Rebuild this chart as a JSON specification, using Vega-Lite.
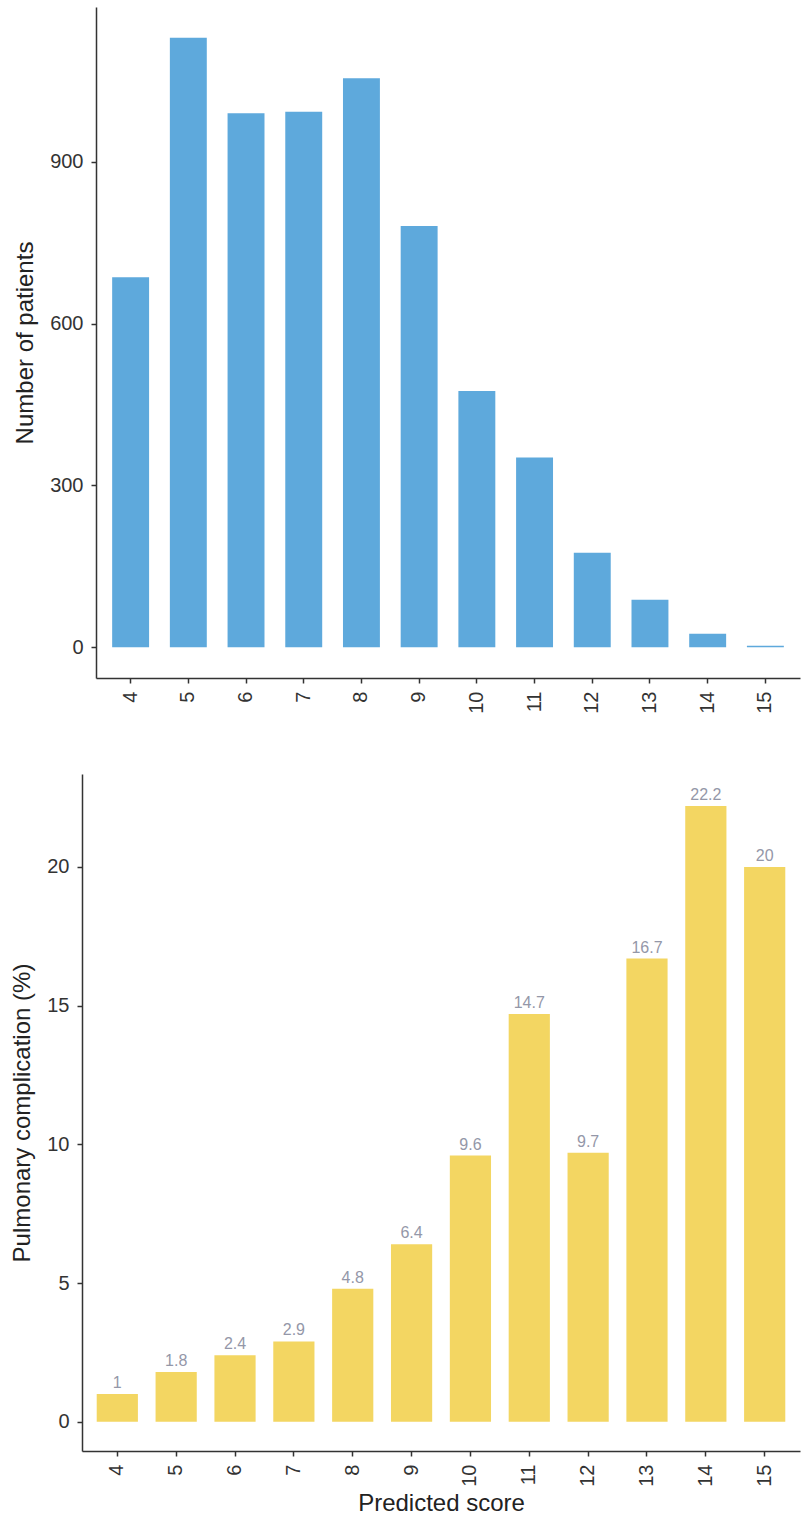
{
  "$schema": "https://vega.github.io/schema/vega-lite/v6.json",
  "background": "white",
  "padding": {"left": 10, "top": 7, "right": 12, "bottom": 2},
  "spacing": 60,
  "config": {
    "view": {"stroke": null},
    "font": "Liberation Sans",
    "axis": {
      "grid": false,
      "domainColor": "#333333",
      "domainWidth": 1.5,
      "tickColor": "#333333",
      "tickWidth": 1.5,
      "tickSize": 5,
      "labelColor": "#333333",
      "labelFontSize": 20,
      "labelPadding": 8,
      "titleFontSize": 24,
      "titleFontWeight": "normal",
      "titleColor": "#222222"
    }
  },
  "datasets": {
    "patients": [
      {"score": 4, "patients": 686},
      {"score": 5, "patients": 1130},
      {"score": 6, "patients": 990},
      {"score": 7, "patients": 993},
      {"score": 8, "patients": 1055},
      {"score": 9, "patients": 781},
      {"score": 10, "patients": 475},
      {"score": 11, "patients": 352},
      {"score": 12, "patients": 175},
      {"score": 13, "patients": 88},
      {"score": 14, "patients": 25},
      {"score": 15, "patients": 3}
    ],
    "complication": [
      {"score": 4, "rate": 1},
      {"score": 5, "rate": 1.8},
      {"score": 6, "rate": 2.4},
      {"score": 7, "rate": 2.9},
      {"score": 8, "rate": 4.8},
      {"score": 9, "rate": 6.4},
      {"score": 10, "rate": 9.6},
      {"score": 11, "rate": 14.7},
      {"score": 12, "rate": 9.7},
      {"score": 13, "rate": 16.7},
      {"score": 14, "rate": 22.2},
      {"score": 15, "rate": 20}
    ]
  },
  "vconcat": [
    {
      "width": 718,
      "height": 671,
      "data": {"name": "patients"},
      "mark": {"type": "bar", "color": "#5ea9dc"},
      "encoding": {
        "x": {
          "field": "score",
          "type": "ordinal",
          "scale": {"paddingInner": 0.36, "paddingOuter": 0.28, "rangeMin": 14},
          "axis": {"title": null, "labelAngle": -90}
        },
        "y": {
          "field": "patients",
          "type": "quantitative",
          "scale": {"domain": [-57, 1187], "nice": false, "zero": false},
          "axis": {"values": [0, 300, 600, 900], "title": "Number of patients", "titlePadding": 12, "offset": -14}
        },
        "y2": {"datum": 0}
      }
    },
    {
      "width": 718,
      "height": 677,
      "data": {"name": "complication"},
      "encoding": {
        "x": {
          "field": "score",
          "type": "ordinal",
          "scale": {"paddingInner": 0.3, "paddingOuter": 0.25},
          "axis": {"title": "Predicted score", "labelAngle": -90, "titlePadding": 5}
        },
        "y": {
          "field": "rate",
          "type": "quantitative",
          "scale": {"domain": [-1.05, 23.35], "nice": false, "zero": false},
          "axis": {"values": [0, 5, 10, 15, 20], "title": "Pulmonary complication (%)", "titlePadding": 12}
        }
      },
      "layer": [
        {
          "mark": {"type": "bar", "color": "#f3d662"},
          "encoding": {"y2": {"datum": 0}}
        },
        {
          "mark": {"type": "text", "baseline": "bottom", "dy": -3, "color": "#9497a8", "fontSize": 16},
          "encoding": {"text": {"field": "rate", "type": "quantitative", "format": ".1~f"}}
        }
      ]
    }
  ]
}
